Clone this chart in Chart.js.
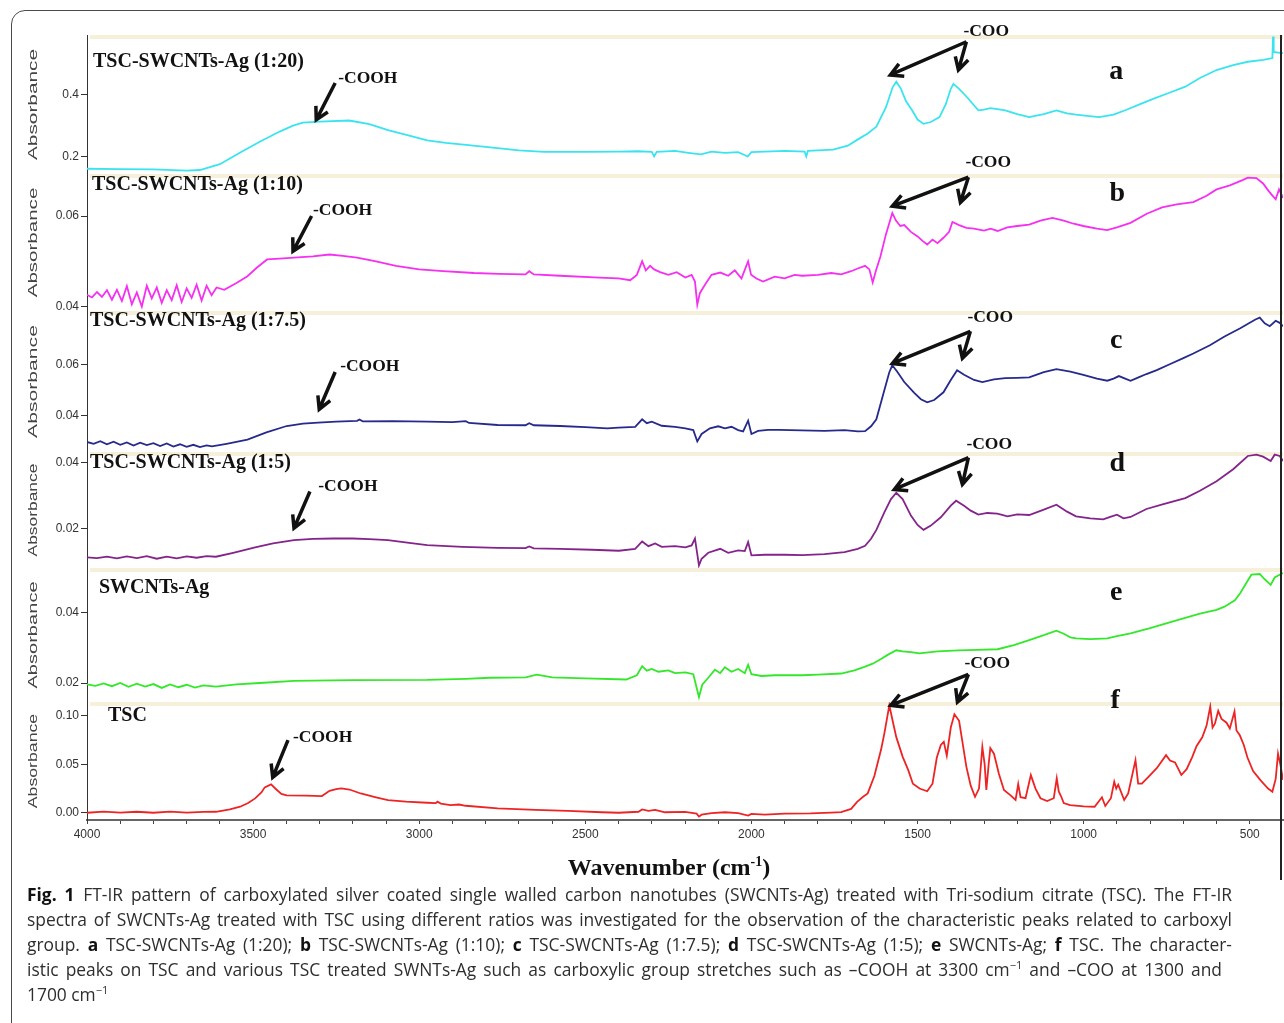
<!DOCTYPE html>
<html>
<head>
<meta charset="utf-8">
<script src="https://cdn.jsdelivr.net/npm/chart.js@4.4.1/dist/chart.umd.min.js"></script>
<style>
html, body { margin: 0; padding: 0; background: #fff; width: 1284px; height: 1023px; overflow: hidden; }
#frame { position: absolute; left: 11px; top: 10px; width: 1300px; height: 1040px; border: 1px solid #4a4a4a; border-radius: 14px; }
#wrap { position: absolute; left: 0; top: 0; width: 1284px; height: 885px; }
#xtitle { position: absolute; left: 0; top: 848px; width: 1338px; text-align: center; font: bold 24px 'Liberation Serif', serif; color: #111; line-height: 28px; }
#xtitle sup { font-size: 14px; }
#cap { position: absolute; left: 27px; top: 882px; width: 1205px; font-family: 'Open Sans', sans-serif; font-size: 17.4px; line-height: 25px; color: #2e2e2e; }
#cap .j { text-align: justify; text-align-last: justify; }
#cap b { color: #111; }
#cap sup { font-size: 11px; line-height: 0; }
</style>
</head>
<body>
<div id="frame"></div>
<div id="wrap"><canvas id="spectra"></canvas></div>
<div id="xtitle">Wavenumber (cm<sup>-1</sup>)</div>
<div id="cap">
  <div class="j"><b>Fig.&nbsp;1</b>&ensp;FT-IR pattern of carboxylated silver coated single walled carbon nanotubes (SWCNTs-Ag) treated with Tri-sodium citrate (TSC). The FT-IR</div>
  <div class="j">spectra of SWCNTs-Ag treated with TSC using different ratios was investigated for the observation of the characteristic peaks related to carboxyl</div>
  <div class="j">group. <b>a</b> TSC-SWCNTs-Ag (1:20); <b>b</b> TSC-SWCNTs-Ag (1:10); <b>c</b> TSC-SWCNTs-Ag (1:7.5); <b>d</b> TSC-SWCNTs-Ag (1:5); <b>e</b> SWCNTs-Ag; <b>f</b> TSC. The character-</div>
  <div class="j" style="width:1195px">istic peaks on TSC and various TSC treated SWNTs-Ag such as carboxylic group stretches such as –COOH at 3300 cm<sup>−1</sup> and –COO at 1300 and</div>
  <div>1700 cm<sup>−1</sup></div>
</div>
<script>
// spectra (wavenumber in cm-1, absorbance)
const waveA = [4000, 3900, 3800, 3700, 3660, 3600, 3540, 3480, 3420, 3380, 3350, 3300, 3211, 3150, 3094, 3030, 2976, 2920, 2859, 2764, 2700, 2624, 2500, 2400, 2341, 2300, 2293, 2285, 2230, 2190, 2152, 2120, 2080, 2040, 2011, 2000, 1900, 1840, 1835, 1830, 1754, 1710, 1682, 1650, 1624, 1595, 1575, 1564, 1550, 1535, 1517, 1500, 1482, 1460, 1434, 1415, 1400, 1392, 1375, 1353, 1317, 1300, 1281, 1260, 1236, 1200, 1164, 1120, 1082, 1050, 1023, 990, 953, 910, 871, 830, 787, 740, 694, 650, 600, 550, 506, 459, 432, 430, 428, 415, 400];
const absA = [0.160, 0.159, 0.158, 0.154, 0.156, 0.175, 0.212, 0.248, 0.281, 0.300, 0.310, 0.313, 0.317, 0.305, 0.286, 0.268, 0.252, 0.244, 0.238, 0.227, 0.220, 0.215, 0.215, 0.216, 0.217, 0.215, 0.200, 0.215, 0.218, 0.212, 0.207, 0.216, 0.212, 0.214, 0.200, 0.214, 0.218, 0.216, 0.200, 0.218, 0.222, 0.235, 0.254, 0.275, 0.297, 0.360, 0.425, 0.443, 0.420, 0.380, 0.351, 0.320, 0.306, 0.312, 0.328, 0.370, 0.420, 0.436, 0.420, 0.395, 0.350, 0.352, 0.357, 0.354, 0.350, 0.338, 0.328, 0.338, 0.350, 0.340, 0.336, 0.332, 0.328, 0.336, 0.352, 0.370, 0.389, 0.408, 0.427, 0.455, 0.481, 0.497, 0.508, 0.514, 0.520, 0.590, 0.540, 0.538, 0.536];

const waveB = [4000, 3985, 3970, 3955, 3940, 3925, 3910, 3895, 3880, 3865, 3850, 3835, 3820, 3805, 3790, 3775, 3760, 3745, 3730, 3715, 3700, 3685, 3670, 3655, 3640, 3625, 3610, 3587, 3550, 3517, 3490, 3458, 3420, 3377, 3320, 3270, 3230, 3187, 3130, 3070, 3000, 2928, 2835, 2760, 2680, 2669, 2655, 2576, 2458, 2400, 2365, 2345, 2329, 2318, 2305, 2293, 2275, 2250, 2225, 2199, 2180, 2170, 2163, 2155, 2139, 2120, 2094, 2070, 2050, 2030, 2010, 2001, 1985, 1965, 1930, 1900, 1870, 1847, 1800, 1760, 1730, 1700, 1680, 1658, 1645, 1635, 1625, 1612, 1595, 1576, 1565, 1552, 1540, 1520, 1500, 1485, 1471, 1455, 1440, 1422, 1405, 1395, 1375, 1353, 1330, 1300, 1280, 1259, 1230, 1200, 1164, 1130, 1094, 1060, 1030, 1001, 960, 929, 900, 859, 810, 764, 720, 670, 630, 600, 560, 520, 506, 480, 460, 447, 435, 422, 412, 400];
const absB = [0.0426, 0.0420, 0.0432, 0.0421, 0.0436, 0.0415, 0.0437, 0.0412, 0.0445, 0.0405, 0.0431, 0.0400, 0.0446, 0.0418, 0.0442, 0.0408, 0.0436, 0.0414, 0.0447, 0.0410, 0.0440, 0.0419, 0.0448, 0.0413, 0.0446, 0.0425, 0.0442, 0.0437, 0.0452, 0.0467, 0.0485, 0.0504, 0.0506, 0.0508, 0.0511, 0.0515, 0.0512, 0.0508, 0.0500, 0.0490, 0.0482, 0.0478, 0.0474, 0.0472, 0.0471, 0.0478, 0.0471, 0.0468, 0.0464, 0.0462, 0.0458, 0.0470, 0.0500, 0.0480, 0.0490, 0.0482, 0.0476, 0.0470, 0.0476, 0.0464, 0.0470, 0.0455, 0.0404, 0.0430, 0.0449, 0.0470, 0.0475, 0.0468, 0.0480, 0.0462, 0.0500, 0.0470, 0.0462, 0.0455, 0.0466, 0.0462, 0.0470, 0.0468, 0.0470, 0.0474, 0.0471, 0.0478, 0.0484, 0.0490, 0.0482, 0.0453, 0.0480, 0.0510, 0.0560, 0.0607, 0.0590, 0.0578, 0.0580, 0.0565, 0.0555, 0.0545, 0.0537, 0.0548, 0.0540, 0.0552, 0.0565, 0.0587, 0.0580, 0.0574, 0.0572, 0.0568, 0.0572, 0.0567, 0.0575, 0.0578, 0.0581, 0.0590, 0.0596, 0.0590, 0.0583, 0.0578, 0.0572, 0.0569, 0.0575, 0.0585, 0.0605, 0.0619, 0.0626, 0.0631, 0.0645, 0.0659, 0.0668, 0.0680, 0.0685, 0.0684, 0.0672, 0.0659, 0.0648, 0.0637, 0.0659, 0.0640];

const waveC = [4000, 3980, 3960, 3940, 3920, 3900, 3880, 3860, 3840, 3820, 3800, 3780, 3760, 3740, 3720, 3700, 3680, 3660, 3640, 3624, 3580, 3517, 3460, 3399, 3350, 3304, 3250, 3187, 3180, 3170, 3080, 2976, 2900, 2860, 2850, 2764, 2680, 2669, 2655, 2576, 2500, 2434, 2400, 2350, 2329, 2315, 2300, 2270, 2230, 2199, 2175, 2163, 2150, 2125, 2100, 2080, 2060, 2040, 2025, 2010, 2000, 1980, 1950, 1916, 1850, 1780, 1720, 1680, 1658, 1640, 1624, 1600, 1585, 1576, 1560, 1540, 1510, 1490, 1471, 1450, 1422, 1400, 1381, 1360, 1330, 1305, 1270, 1236, 1200, 1164, 1120, 1082, 1040, 1001, 960, 929, 910, 894, 875, 859, 835, 811, 780, 741, 700, 670, 620, 576, 530, 483, 470, 455, 440, 422, 410, 400];
const absC = [0.0299, 0.0292, 0.0302, 0.0290, 0.0300, 0.0288, 0.0297, 0.0285, 0.0296, 0.0287, 0.0294, 0.0283, 0.0293, 0.0281, 0.0290, 0.0280, 0.0288, 0.0279, 0.0286, 0.0282, 0.0292, 0.0308, 0.0336, 0.0361, 0.0370, 0.0374, 0.0378, 0.0381, 0.0386, 0.0379, 0.0380, 0.0378, 0.0376, 0.0380, 0.0373, 0.0365, 0.0364, 0.0372, 0.0364, 0.0361, 0.0357, 0.0352, 0.0355, 0.0358, 0.0387, 0.0372, 0.0378, 0.0362, 0.0358, 0.0352, 0.0345, 0.0301, 0.0330, 0.0352, 0.0360, 0.0352, 0.0358, 0.0345, 0.0340, 0.0382, 0.0330, 0.0342, 0.0346, 0.0346, 0.0344, 0.0342, 0.0345, 0.0340, 0.0341, 0.0360, 0.0387, 0.0500, 0.0570, 0.0597, 0.0570, 0.0532, 0.0490, 0.0465, 0.0453, 0.0462, 0.0492, 0.0540, 0.0578, 0.0560, 0.0540, 0.0532, 0.0542, 0.0547, 0.0548, 0.0550, 0.0570, 0.0582, 0.0572, 0.0560, 0.0545, 0.0537, 0.0545, 0.0555, 0.0545, 0.0537, 0.0550, 0.0563, 0.0578, 0.0601, 0.0625, 0.0643, 0.0675, 0.0709, 0.0740, 0.0775, 0.0782, 0.0760, 0.0749, 0.0770, 0.0762, 0.0749];

const waveD = [4000, 3970, 3940, 3910, 3880, 3850, 3820, 3790, 3760, 3730, 3700, 3670, 3640, 3612, 3560, 3494, 3440, 3377, 3320, 3259, 3200, 3150, 3094, 3030, 2976, 2870, 2764, 2680, 2669, 2655, 2576, 2480, 2399, 2350, 2329, 2310, 2290, 2270, 2230, 2199, 2180, 2170, 2158, 2150, 2130, 2094, 2070, 2040, 2020, 2010, 2000, 1960, 1900, 1847, 1780, 1720, 1680, 1658, 1640, 1624, 1600, 1580, 1564, 1545, 1520, 1500, 1482, 1460, 1430, 1400, 1384, 1360, 1340, 1317, 1290, 1260, 1229, 1200, 1164, 1120, 1082, 1050, 1023, 980, 941, 920, 900, 880, 859, 835, 811, 760, 694, 650, 600, 550, 506, 480, 460, 437, 425, 410, 400];
const absD = [0.0114, 0.0112, 0.0116, 0.0111, 0.0117, 0.0112, 0.0118, 0.0110, 0.0116, 0.0111, 0.0117, 0.0113, 0.0118, 0.0116, 0.0128, 0.0144, 0.0156, 0.0166, 0.0170, 0.0171, 0.0171, 0.0169, 0.0166, 0.0158, 0.0151, 0.0146, 0.0143, 0.0142, 0.0147, 0.0141, 0.0140, 0.0137, 0.0134, 0.0140, 0.0162, 0.0148, 0.0156, 0.0146, 0.0148, 0.0144, 0.0150, 0.0171, 0.0090, 0.0110, 0.0128, 0.0140, 0.0128, 0.0135, 0.0133, 0.0160, 0.0120, 0.0122, 0.0122, 0.0121, 0.0124, 0.0130, 0.0140, 0.0149, 0.0170, 0.0197, 0.0250, 0.0290, 0.0309, 0.0290, 0.0240, 0.0212, 0.0197, 0.0210, 0.0235, 0.0270, 0.0285, 0.0270, 0.0255, 0.0243, 0.0248, 0.0246, 0.0238, 0.0244, 0.0242, 0.0258, 0.0273, 0.0252, 0.0238, 0.0232, 0.0229, 0.0236, 0.0243, 0.0232, 0.0236, 0.0248, 0.0260, 0.0275, 0.0293, 0.0315, 0.0344, 0.0380, 0.0420, 0.0424, 0.0418, 0.0405, 0.0424, 0.0420, 0.0405];

const waveE = [4000, 3975, 3950, 3925, 3900, 3875, 3850, 3825, 3800, 3775, 3750, 3725, 3700, 3675, 3650, 3612, 3550, 3480, 3377, 3200, 2976, 2860, 2788, 2680, 2646, 2600, 2500, 2377, 2345, 2329, 2315, 2300, 2280, 2250, 2230, 2199, 2175, 2158, 2148, 2130, 2110, 2094, 2080, 2060, 2040, 2020, 2010, 2000, 1970, 1930, 1880, 1847, 1800, 1730, 1690, 1660, 1635, 1610, 1590, 1564, 1545, 1520, 1494, 1440, 1377, 1320, 1259, 1210, 1164, 1120, 1082, 1060, 1040, 1023, 980, 929, 900, 859, 800, 718, 650, 600, 576, 545, 529, 510, 495, 470, 455, 437, 425, 410, 400];
const absE = [0.0196, 0.0192, 0.0199, 0.0191, 0.0200, 0.0189, 0.0198, 0.0190, 0.0197, 0.0186, 0.0196, 0.0188, 0.0195, 0.0187, 0.0193, 0.0190, 0.0196, 0.0200, 0.0206, 0.0208, 0.0209, 0.0212, 0.0215, 0.0216, 0.0224, 0.0216, 0.0213, 0.0210, 0.0222, 0.0248, 0.0235, 0.0240, 0.0232, 0.0236, 0.0228, 0.0230, 0.0225, 0.0160, 0.0195, 0.0215, 0.0238, 0.0228, 0.0245, 0.0232, 0.0240, 0.0228, 0.0252, 0.0225, 0.0220, 0.0222, 0.0222, 0.0222, 0.0224, 0.0227, 0.0236, 0.0246, 0.0255, 0.0268, 0.0280, 0.0293, 0.0290, 0.0288, 0.0284, 0.0290, 0.0293, 0.0294, 0.0296, 0.0308, 0.0322, 0.0336, 0.0349, 0.0340, 0.0330, 0.0327, 0.0325, 0.0327, 0.0333, 0.0341, 0.0356, 0.0379, 0.0397, 0.0408, 0.0417, 0.0435, 0.0455, 0.0485, 0.0508, 0.0510, 0.0495, 0.0479, 0.0500, 0.0508, 0.0513];

const waveF = [4000, 3950, 3900, 3850, 3800, 3750, 3700, 3650, 3612, 3570, 3539, 3515, 3494, 3475, 3465, 3446, 3430, 3415, 3399, 3340, 3293, 3270, 3250, 3235, 3210, 3176, 3130, 3094, 3040, 2976, 2950, 2945, 2935, 2906, 2880, 2860, 2764, 2650, 2552, 2450, 2400, 2340, 2329, 2310, 2290, 2260, 2200, 2165, 2158, 2150, 2120, 2080, 2040, 2010, 2000, 1960, 1900, 1822, 1760, 1730, 1700, 1682, 1664, 1650, 1630, 1610, 1600, 1585, 1575, 1564, 1545, 1528, 1514, 1494, 1471, 1455, 1442, 1430, 1421, 1412, 1400, 1389, 1375, 1353, 1340, 1327, 1315, 1305, 1298, 1293, 1286, 1281, 1270, 1255, 1240, 1220, 1205, 1197, 1190, 1175, 1159, 1145, 1130, 1110, 1090, 1081, 1075, 1068, 1060, 1041, 1000, 967, 945, 935, 918, 908, 902, 896, 878, 866, 844, 836, 825, 805, 780, 752, 740, 725, 706, 690, 674, 660, 643, 630, 619, 612, 605, 595, 585, 570, 560, 546, 540, 530, 518, 507, 490, 468, 445, 432, 422, 415, 408, 400];
const absF = [0.0000, 0.0012, 0.0002, 0.0010, 0.0000, 0.0011, 0.0001, 0.0008, 0.0010, 0.0035, 0.0062, 0.0100, 0.0148, 0.0210, 0.0262, 0.0293, 0.0240, 0.0195, 0.0179, 0.0176, 0.0172, 0.0227, 0.0245, 0.0251, 0.0240, 0.0199, 0.0160, 0.0131, 0.0115, 0.0103, 0.0100, 0.0115, 0.0095, 0.0079, 0.0085, 0.0072, 0.0045, 0.0030, 0.0020, 0.0005, 0.0000, 0.0010, 0.0034, 0.0020, 0.0030, 0.0005, 0.0008, -0.0010, -0.0040, -0.0020, -0.0005, 0.0005, -0.0005, -0.0030, -0.0012, -0.0020, -0.0010, -0.0007, 0.0002, 0.0007, 0.0040, 0.0113, 0.0165, 0.0200, 0.0380, 0.0650, 0.0818, 0.1110, 0.0950, 0.0781, 0.0580, 0.0440, 0.0300, 0.0250, 0.0222, 0.0300, 0.0570, 0.0700, 0.0732, 0.0590, 0.0880, 0.1017, 0.0950, 0.0474, 0.0280, 0.0165, 0.0250, 0.0680, 0.0500, 0.0235, 0.0500, 0.0667, 0.0610, 0.0400, 0.0235, 0.0180, 0.0132, 0.0296, 0.0160, 0.0150, 0.0389, 0.0250, 0.0150, 0.0120, 0.0150, 0.0355, 0.0220, 0.0170, 0.0100, 0.0079, 0.0065, 0.0062, 0.0160, 0.0070, 0.0150, 0.0320, 0.0250, 0.0290, 0.0132, 0.0200, 0.0543, 0.0300, 0.0300, 0.0371, 0.0460, 0.0595, 0.0540, 0.0520, 0.0390, 0.0450, 0.0570, 0.0690, 0.0780, 0.0900, 0.1097, 0.0880, 0.0920, 0.1052, 0.0970, 0.0930, 0.0870, 0.1045, 0.0850, 0.0800, 0.0700, 0.0570, 0.0430, 0.0337, 0.0250, 0.0217, 0.0350, 0.0610, 0.0500, 0.0340];

const tickA = [0.2, 0.4];
const tickLabA = ['0.2', '0.4'];
const tickB = [0.04, 0.06];
const tickLabB = ['0.04', '0.06'];
const tickC = [0.04, 0.06];
const tickLabC = ['0.04', '0.06'];
const tickD = [0.02, 0.04];
const tickLabD = ['0.02', '0.04'];
const tickE = [0.02, 0.04];
const tickLabE = ['0.02', '0.04'];
const tickF = [0.00, 0.05, 0.10];
const tickLabF = ['0.00', '0.05', '0.10'];

const xTicks = [500, 600, 700, 800, 900, 1000, 1100, 1200, 1300, 1400, 1500, 1600, 1700, 1800, 1900, 2000, 2100, 2200, 2300, 2400, 2500, 2600, 2700, 2800, 2900, 3000, 3100, 3200, 3300, 3400, 3500, 3600, 3700, 3800, 3900, 4000];
const xLabels = [500, 1000, 1500, 2000, 2500, 3000, 3500, 4000];

const panelNames = ['TSC-SWCNTs-Ag (1:20)', 'TSC-SWCNTs-Ag (1:10)', 'TSC-SWCNTs-Ag (1:7.5)', 'TSC-SWCNTs-Ag (1:5)', 'SWCNTs-Ag', 'TSC'];
const panelLetters = ['a', 'b', 'c', 'd', 'e', 'f'];

const panels = [
    { id: 'yA', wave: waveA, abs: absA, color: '#3ae4ee', min: 0.143, max: 0.595, ticks: tickA, labels: tickLabA, h: 139 },
    { id: 'yB', wave: waveB, abs: absB, color: '#f530f0', min: 0.039, max: 0.0693, ticks: tickB, labels: tickLabB, h: 137 },
    { id: 'yC', wave: waveC, abs: absC, color: '#262a8c', min: 0.026, max: 0.0808, ticks: tickC, labels: tickLabC, h: 141 },
    { id: 'yD', wave: waveD, abs: absD, color: '#84248a', min: 0.0082, max: 0.0432, ticks: tickD, labels: tickLabD, h: 116 },
    { id: 'yE', wave: waveE, abs: absE, color: '#33e82a', min: 0.0146, max: 0.0527, ticks: tickE, labels: tickLabE, h: 134 },
    { id: 'yF', wave: waveF, abs: absF, color: '#ee2424', min: -0.0075, max: 0.1144, ticks: tickF, labels: tickLabF, h: 118 }
];

// where the labels and arrows sit, in each panel's own units
const notes = [
    { name: [3982, 0.507], letter: [902, 0.475], cooh: [3244, 0.455], coohArrow: [3253, 0.439, 3310, 0.319], coo: [1362, 0.605], cooArrows: [1353, 0.573, 1582, 0.465, 1377, 0.481] },
    { name: [3985, 0.0668], letter: [899, 0.065], cooh: [3320, 0.0613], coohArrow: [3324, 0.0600, 3380, 0.0522], coo: [1356, 0.0719], cooArrows: [1347, 0.0686, 1576, 0.0622, 1371, 0.063] },
    { name: [3991, 0.077], letter: [902, 0.0691], cooh: [3238, 0.0592], coohArrow: [3253, 0.0571, 3301, 0.0426], coo: [1350, 0.0781], cooArrows: [1341, 0.0729, 1576, 0.0604, 1365, 0.0624] },
    { name: [3991, 0.0398], letter: [899, 0.0398], cooh: [3304, 0.0328], coohArrow: [3329, 0.0313, 3377, 0.0202], coo: [1353, 0.0456], cooArrows: [1347, 0.0415, 1570, 0.0319, 1365, 0.0334] },
    { name: [3964, 0.0471], letter: [902, 0.0456] },
    { name: [3937, 0.0997], letter: [905, 0.116], cooh: [3380, 0.078], coohArrow: [3395, 0.075, 3441, 0.0365], coo: [1359, 0.1543], cooArrows: [1347, 0.143, 1581, 0.111, 1380, 0.1144] }
];

const tickFont = { family: "'Liberation Sans Narrow', 'Liberation Sans', Arial, sans-serif", size: 12 };

var scales = {
    x: {
        type: 'linear',
        reverse: true,
        min: 400,
        max: 4000,
        afterBuildTicks: function(s) { s.ticks = xTicks.map(function(v) { return { value: v }; }); },
        afterFit: function(s) { s.height = 30; },
        border: { color: '#666', width: 2 },
        grid: { drawOnChartArea: false, tickLength: 4, tickColor: '#444' },
        ticks: {
            autoSkip: false,
            maxRotation: 0,
            padding: 3,
            color: '#333',
            font: tickFont,
            callback: function(v) { return xLabels.indexOf(v) >= 0 ? String(v) : ''; }
        }
    }
};

var datasets = [];

// stacked axes are laid out bottom-up, so the last panel goes in first
for (var i = panels.length - 1; i >= 0; i--) {
    var p = panels[i];
    scales[p.id] = {
        type: 'linear',
        position: 'left',
        stack: 'spectra',
        stackWeight: p.h,
        min: p.min,
        max: p.max,
        afterBuildTicks: (function(t) {
            return function(s) { s.ticks = t.map(function(v) { return { value: v }; }); };
        })(p.ticks),
        afterFit: function(s) { s.width = 87; },
        border: { color: '#333', width: 1, dash: [2, 2] },
        grid: { drawOnChartArea: false, tickLength: 6, tickColor: '#333' },
        ticks: {
            padding: 2,
            color: '#333',
            font: tickFont,
            callback: (function(labels) {
                return function(v, idx) { return labels[idx]; };
            })(p.labels)
        }
    };
}

for (var i = 0; i < panels.length; i++) {
    var p = panels[i];
    var pts = [];
    for (var j = 0; j < p.wave.length; j++) {
        pts.push({ x: p.wave[j], y: p.abs[j] });
    }
    datasets.push({
        label: panelNames[i],
        data: pts,
        yAxisID: p.id,
        borderColor: p.color,
        borderWidth: 1.8,
        pointRadius: 0,
        tension: 0,
        fill: false
    });
}

function drawArrow(ctx, x1, y1, x2, y2) {
    var ang = Math.atan2(y2 - y1, x2 - x1);
    var len = 14;
    ctx.beginPath();
    ctx.moveTo(x1, y1);
    ctx.lineTo(x2, y2);
    ctx.moveTo(x2 - len * Math.cos(ang - 0.5), y2 - len * Math.sin(ang - 0.5));
    ctx.lineTo(x2, y2);
    ctx.lineTo(x2 - len * Math.cos(ang + 0.5), y2 - len * Math.sin(ang + 0.5));
    ctx.stroke();
}

const decor = {
    id: 'decor',
    beforeDatasetsDraw: function(chart) {
        var ctx = chart.ctx;
        var area = chart.chartArea;
        ctx.save();
        ctx.strokeStyle = 'rgba(238, 226, 186, 0.55)';
        ctx.lineWidth = 4;
        for (var i = 0; i < panels.length; i++) {
            var s = chart.scales[panels[i].id];
            ctx.beginPath();
            ctx.moveTo(area.left + 3, s.top + 2);
            ctx.lineTo(area.right, s.top + 2);
            ctx.stroke();
        }
        ctx.restore();
    },
    afterDraw: function(chart) {
        var ctx = chart.ctx;
        var xs = chart.scales.x;
        var area = chart.chartArea;
        ctx.save();

        // rotated axis titles
        ctx.fillStyle = '#444';
        ctx.font = "13.5px 'Liberation Sans', Arial, sans-serif";
        ctx.textAlign = 'center';
        ctx.textBaseline = 'middle';
        for (var i = 0; i < panels.length; i++) {
            var s = chart.scales[panels[i].id];
            var w = ctx.measureText('Absorbance').width;
            var target = (s.bottom - s.top) * 0.8;
            ctx.save();
            ctx.translate(33, (s.top + s.bottom) / 2);
            ctx.rotate(-Math.PI / 2);
            ctx.scale(target / w, 1);
            ctx.fillText('Absorbance', 0, 0);
            ctx.restore();
        }

        // right frame line
        ctx.strokeStyle = '#222';
        ctx.lineWidth = 2;
        ctx.beginPath();
        ctx.moveTo(area.right - 2, area.top);
        ctx.lineTo(area.right - 2, 880);
        ctx.stroke();

        ctx.fillStyle = '#111';
        ctx.strokeStyle = '#111';
        ctx.lineWidth = 3.5;
        ctx.textBaseline = 'middle';
        for (var i = 0; i < notes.length; i++) {
            var n = notes[i];
            var ys = chart.scales[panels[i].id];
            var px = function(v) { return xs.getPixelForValue(v); };
            var py = function(v) { return ys.getPixelForValue(v); };

            ctx.textAlign = 'left';
            ctx.font = "bold 20px 'Liberation Serif', serif";
            ctx.fillText(panelNames[i], px(n.name[0]), py(n.name[1]));

            ctx.textAlign = 'center';
            ctx.font = "bold 28px 'Liberation Serif', serif";
            ctx.fillText(panelLetters[i], px(n.letter[0]), py(n.letter[1]));

            ctx.textAlign = 'left';
            ctx.font = "bold 17.5px 'Liberation Serif', serif";
            if (n.cooh) {
                ctx.fillText('-COOH', px(n.cooh[0]), py(n.cooh[1]));
                var a = n.coohArrow;
                drawArrow(ctx, px(a[0]), py(a[1]), px(a[2]), py(a[3]));
            }
            if (n.coo) {
                ctx.fillText('-COO', px(n.coo[0]), py(n.coo[1]));
                var c = n.cooArrows;
                drawArrow(ctx, px(c[0]), py(c[1]), px(c[2]), py(c[3]));
                drawArrow(ctx, px(c[0]), py(c[1]), px(c[4]), py(c[5]));
            }
        }
        ctx.restore();
    }
};

var chart = new Chart(document.getElementById('spectra'), {
    type: 'line',
    data: { datasets: datasets },
    options: {
        responsive: true,
        maintainAspectRatio: false,
        animation: false,
        layout: { padding: { left: 0, top: 35, right: 1, bottom: 35 } },
        plugins: { legend: { display: false }, tooltip: { enabled: false } },
        scales: scales
    },
    plugins: [decor]
});
</script>
</body>
</html>
